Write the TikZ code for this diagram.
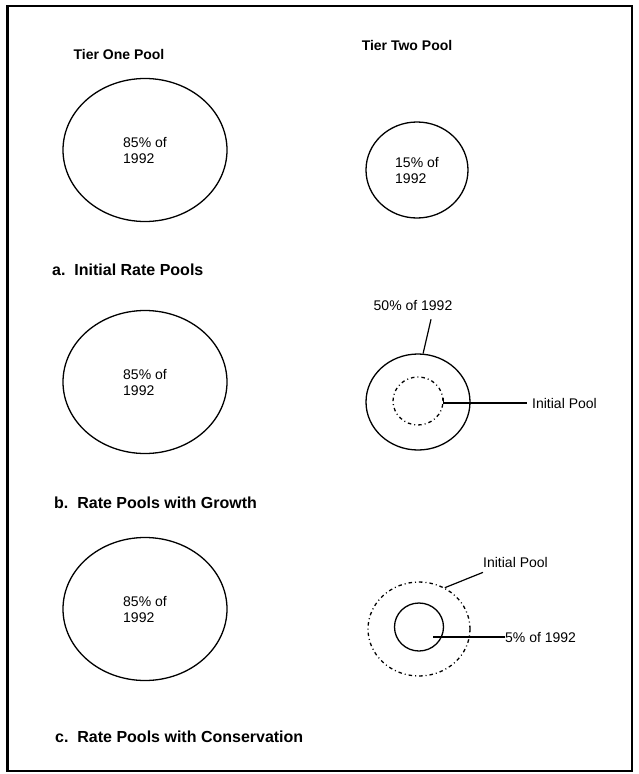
\documentclass[tikz,border=0pt]{standalone}
\usepackage{fontspec}
\setmainfont{Liberation Sans}
\usetikzlibrary{shapes.geometric}
\tikzset{
  pool/.style={draw, ellipse, line width=1.3pt, inner sep=0pt, align=left,
    font=\fontsize{14}{16}\selectfont},
  oldpool/.style={pool, dash pattern=on 3.5pt off 3pt on 1pt off 3pt},
  tierhead/.style={inner sep=0pt, font=\bfseries\fontsize{14}{16}\selectfont},
  panelcap/.style={anchor=west, inner sep=0pt, font=\bfseries\fontsize{16}{18}\selectfont},
  note/.style={inner sep=0pt, font=\fontsize{14}{16}\selectfont},
  lead/.style={line width=1.2pt}
}
\begin{document}
\begin{tikzpicture}[x=1pt, y=-1pt]
  \useasboundingbox (0,0) rectangle (638,774);
  % frame
  \draw[line width=1.2pt] (7,6) rectangle (632,771);
  \draw[line width=2.6pt] (7.5,6) -- (7.5,771);
  % tier one pools
  \foreach \y/\n in {150/a1, 382/b1, 609/c1} {
    \node[pool, minimum width=164pt, minimum height=143pt] (\n) at (145,\y) {85\% of\\1992};
  }
  % tier two pools
  \node[pool, minimum width=102pt, minimum height=96pt] (a2) at (417,170) {15\% of\\1992};
  \node[pool, minimum width=104pt, minimum height=96pt] (b2) at (418,402) {};
  \node[oldpool, minimum width=50pt, minimum height=48pt] (b2in) at (418,401) {};
  \node[oldpool, minimum width=102pt, minimum height=94pt] (c2) at (419,629) {};
  \node[pool, minimum width=49pt, minimum height=48pt] (c2in) at (419,627) {};
  % headings
  \node[tierhead] (t1) at (119,54) {Tier One Pool};
  \node[tierhead] (t2) at (407,45) {Tier Two Pool};
  % captions
  \node[panelcap] (capa) at (52,270) {a.\ \ Initial Rate Pools};
  \node[panelcap] (capb) at (54,503) {b.\ \ Rate Pools with Growth};
  \node[panelcap] (capc) at (55,737) {c.\ \ Rate Pools with Conservation};
  % labels and leaders
  \node[note] (b2grow) at (413,305) {50\% of 1992};
  \draw[lead] ([xshift=18pt,yshift=-9pt]b2grow.south) -- (b2.84);
  \node[note, anchor=west] (b2old) at (532,403) {Initial Pool};
  \draw[lead] ([yshift=3pt]b2in.east) |- ([xshift=-5pt]b2old.west);
  \node[note, anchor=west] (c2old) at (483,562) {Initial Pool};
  \draw[lead] (c2.58) -- ([yshift=-5pt]c2old.south west);
  \node[note, anchor=west] (c2now) at (505,637) {5\% of 1992};
  \draw[lead] ([shift={(14pt,-10pt)}]c2in.center) -- (c2now.west);
\end{tikzpicture}
\end{document}
